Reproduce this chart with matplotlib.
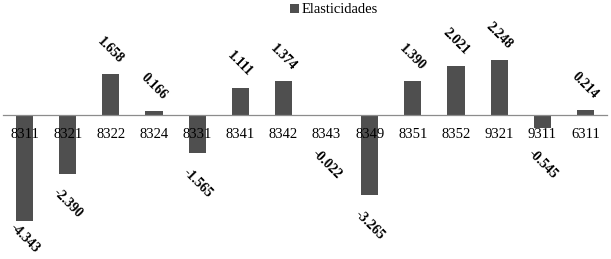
"""
Elasticidades por código - gráfico de barras
"""

import matplotlib
matplotlib.use('Agg')
import matplotlib.pyplot as plt
from matplotlib.patches import Patch

# 데이터
codigos = ['8311', '8321', '8322', '8324', '8331', '8341', '8342',
           '8343', '8349', '8351', '8352', '9321', '9311', '6311']
elasticidades = [-4.343, -2.390, 1.658, 0.166, -1.565, 1.111, 1.374,
                 -0.022, -3.265, 1.390, 2.021, 2.248, -0.545, 0.214]
etiquetas = ['-4.343', '-2.390', '1.658', '0.166', '-1.565', '1.111', '1.374',
             '-0.022', '-3.265', '1.390', '2.021', '2.248', '-0.545', '0.214']

BAR_COLOR = '#4f4f4f'
FONT = 'Liberation Serif'

W, H = 611, 259
fig = plt.figure(figsize=(W / 100, H / 100), dpi=100)
# 축 영역 (픽셀 기준)
left, right, top, bottom = 3, 607, 20, 250
ax = fig.add_axes([left / W, 1 - bottom / H, (right - left) / W, (bottom - top) / H])

ylo, yhi = -5.51, 3.88
x = list(range(len(codigos)))
ax.bar(x, elasticidades, width=0.4, color=BAR_COLOR, zorder=1)

ax.set_xlim(-0.5, len(codigos) - 0.5)
ax.set_ylim(ylo, yhi)

# 축 설정 - 0 위치에 기준선
for s in ['top', 'right', 'left']:
    ax.spines[s].set_visible(False)
ax.spines['bottom'].set_position(('data', 0))
ax.spines['bottom'].set_color('#8c8c8c')
ax.spines['bottom'].set_linewidth(0.9)
ax.set_yticks([])
ax.set_xticks(x)
ax.set_xticklabels(codigos, fontfamily=FONT, fontsize=10.5)
ax.tick_params(axis='x', length=0, pad=9)

# 값 레이블 (회전)
for i, (v, lab) in enumerate(zip(elasticidades, etiquetas)):
    if v >= 0:
        y = v + 0.98
    else:
        y = max(v - 1.22, ylo + 0.5)
        y = min(y, -2.0)
    ax.text(i, y, lab, rotation=-45, ha='center', va='center',
            fontfamily=FONT, fontsize=10, fontweight='bold', color='black',
            rotation_mode='anchor')

# 범례
handles = [Patch(facecolor=BAR_COLOR, edgecolor='none', label='Elasticidades')]
fig.legend(handles=handles, loc='center', bbox_to_anchor=(334 / W, 1 - 10 / H),
           frameon=False, handlelength=0.6, handleheight=0.6, handletextpad=0.2,
           prop={'family': FONT, 'size': 10.5})

plt.savefig('out.png', dpi=100)
plt.close()
